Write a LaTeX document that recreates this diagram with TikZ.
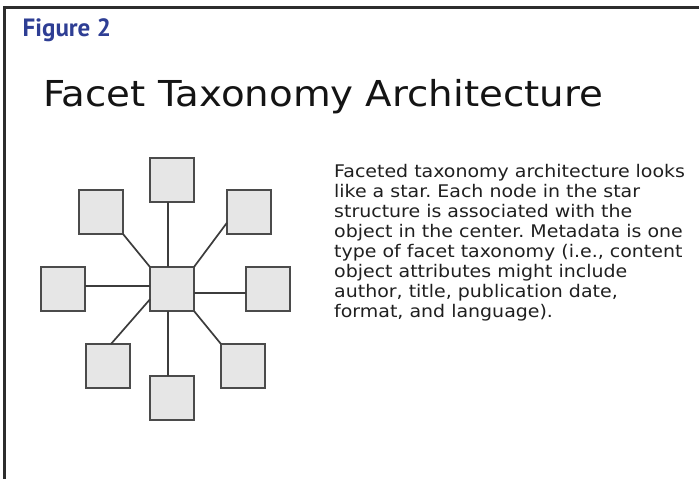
\documentclass[tikz,border=0pt]{standalone}
\usepackage{fontspec}
\newfontfamily\verd{DejaVu Sans}[FakeStretch=1.09]
\newfontfamily\verdt{DejaVu Sans}[FakeStretch=1.085]
\newfontfamily\figfont{PT Sans}
\definecolor{figblue}{RGB}{46,62,148}
\definecolor{boxfill}{RGB}{230,230,230}
\definecolor{boxline}{RGB}{75,75,75}
\definecolor{linkc}{RGB}{60,60,60}
\definecolor{frame}{RGB}{45,45,45}
\begin{document}
\frenchspacing
\begin{tikzpicture}[x=1pt,y=-1pt,
  facet/.style={draw=boxline,fill=boxfill,line width=1.6pt,minimum size=44pt,inner sep=0pt,outer sep=0pt},
  link/.style={draw=linkc,line width=1.7pt},
  frameline/.style={draw=frame,line width=2.6pt}]
\useasboundingbox (0,0) rectangle (699,479);
% frame
\coordinate (fl) at (4.7,479);
\coordinate (fc) at (4.7,7.5);
\coordinate (fr) at (699,7.5);
\draw[frameline] (fl) -- (fc) -- (fr);
% heading
\node[anchor=base west,inner sep=0pt,text=figblue,font=\figfont\bfseries\fontsize{25}{30}\selectfont] (fig) at (22.5,36) {Figure 2};
\node[anchor=base west,inner sep=0pt,text=black!92,font=\verdt\fontsize{35.7}{40}\selectfont] (title) at (43,106.7) {Facet Taxonomy Architecture};
% star
\node[facet] (c) at (172,289) {};
\node[facet] (t) at (172,180) {};
\node[facet] (tl) at (101,212) {};
\node[facet] (tr) at (249,212) {};
\node[facet] (l) at (63,289) {};
\node[facet] (r) at (268,289) {};
\node[facet] (bl) at (108,366) {};
\node[facet] (br) at (243,366) {};
\node[facet] (b) at (172,398) {};
\draw[link] ([xshift=-3.7pt]t.south) -- ([xshift=-3.7pt]c.north);
\draw[link] (tl.south east) -- (c.north west);
\draw[link] (c.north east) -- ([yshift=-10.7pt]tr.west);
\draw[link] ([yshift=3pt]l.east) -- ([yshift=3pt]c.west);
\draw[link] ([yshift=-3.7pt]c.east) -- ([yshift=-3.7pt]r.west);
\draw[link] ([xshift=3pt]bl.north) -- ([yshift=-10.3pt]c.west);
\draw[link] ([xshift=-3.7pt]c.south) -- ([xshift=-3.7pt]b.north);
\draw[link] (c.south east) -- (br.north west);
% description
\node[anchor=north west,inner sep=0pt,align=left,text=black!88,font=\verd\fontsize{17.4}{19.9}\selectfont] (desc) at (334,164.5)
{Faceted taxonomy architecture looks\\
like a star. Each node in the star\\
structure is associated with the\\
object in the center. Metadata is one\\
type of facet taxonomy (i.e., content\\
object attributes might include\\
author, title, publication date,\\
format, and language).};
\end{tikzpicture}
\end{document}
